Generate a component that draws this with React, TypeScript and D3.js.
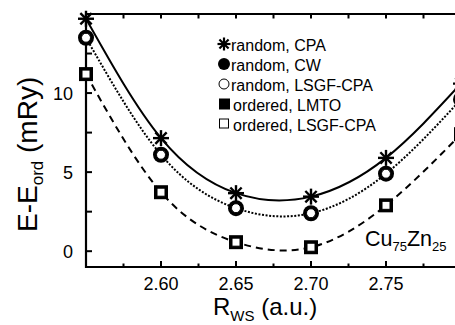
import React from "react";
import * as d3 from "d3";

const rws = [2.55, 2.6, 2.65, 2.7, 2.75, 2.8];
const randomCPA = [14.7, 7.15, 3.67, 3.45, 5.9, 10.6];
const randomCW = [13.5, 6.1, 2.72, 2.4, 4.9, 9.6];
const randomLSGF = [13.5, 6.1, 2.72, 2.4, 4.9, 9.6];
const orderedLMTO = [11.2, 3.73, 0.57, 0.25, 2.9, 7.4];
const orderedLSGF = [11.2, 3.73, 0.57, 0.25, 2.9, 7.4];

const xMajorTicks = [2.6, 2.65, 2.7, 2.75];
const xAllTicks = [2.575, 2.6, 2.625, 2.65, 2.675, 2.7, 2.725, 2.75, 2.775];
const yMajorTicks = [0, 5, 10];
const yAllTicks = [0, 2.5, 5, 7.5, 10, 12.5];
const legendLabels = [
  "random, CPA",
  "random, CW",
  "random, LSGF-CPA",
  "ordered, LMTO",
  "ordered, LSGF-CPA",
];

const W = 455;
const H = 325;
const left = 86;
const right = 461;
const top = 14;
const bottom = 267;
const FONT = "'Liberation Sans', Arial, Helvetica, sans-serif";

const x = d3.scaleLinear().domain([2.55, 2.8]).range([left, right]);
const y = d3.scaleLinear().domain([-1, 15]).range([bottom, top]);

function Asterisk({ cx, cy, r, sw }: { cx: number; cy: number; r: number; sw: number }) {
  const angles = [0, 45, 90, 135];
  return (
    <g>
      {angles.map((a) => {
        const rad = (a * Math.PI) / 180;
        const dx = Math.cos(rad) * r;
        const dy = Math.sin(rad) * r;
        return (
          <line key={a} x1={cx - dx} y1={cy - dy} x2={cx + dx} y2={cy + dy} stroke="#000" strokeWidth={sw} />
        );
      })}
    </g>
  );
}

export default function App() {
  const line = d3
    .line<number>()
    .x((_, i) => x(rws[i]))
    .y((d) => y(d))
    .curve(d3.curveNatural);

  return (
    <svg
      width={W}
      height={H}
      style={{ position: "absolute", left: 0, top: 0, background: "#fff" }}
      fontFamily={FONT}
    >
      <defs>
        <clipPath id="plot">
          <rect x={left} y={top} width={right - left} height={bottom - top} />
        </clipPath>
      </defs>
      <rect x={0} y={0} width={W} height={H} fill="#fff" />

      {/* curves */}
      <g clipPath="url(#plot)" fill="none" stroke="#000">
        <path d={line(randomCPA) || ""} strokeWidth={2} />
        <path d={line(randomLSGF) || ""} strokeWidth={2} strokeDasharray="2,1.6" />
        <path d={line(orderedLSGF) || ""} strokeWidth={2} strokeDasharray="7,5" />
      </g>

      {/* axes frame */}
      <g stroke="#000" strokeWidth={2.2} fill="none">
        <line x1={left} y1={top} x2={left} y2={bottom + 1} />
        <line x1={left - 1} y1={bottom} x2={right} y2={bottom} />
        <line x1={left - 1} y1={top} x2={right} y2={top} />
      </g>
      {/* ticks */}
      <g stroke="#000" strokeWidth={2}>
        {xAllTicks.map((t) => {
          const major = xMajorTicks.some((m) => Math.abs(m - t) < 1e-6);
          return (
            <g key={t}>
              <line x1={x(t)} x2={x(t)} y1={bottom} y2={bottom - (major ? 6 : 3.5)} />
              <line x1={x(t)} x2={x(t)} y1={top} y2={top + 4.5} />
            </g>
          );
        })}
        {yAllTicks.map((t) => (
          <line key={t} x1={left} x2={left + 6} y1={y(t)} y2={y(t)} />
        ))}
      </g>
      <g fontSize={18} fill="#000">
        {xMajorTicks.map((t) => (
          <text key={t} x={x(t)} y={290} textAnchor="middle">
            {t.toFixed(2)}
          </text>
        ))}
        {yMajorTicks.map((t) => (
          <text key={t} x={73} y={y(t) + 6.5} textAnchor="end">
            {t}
          </text>
        ))}
      </g>

      {/* axis labels */}
      <text x={213} y={315} fontSize={24} fill="#000">
        R<tspan fontSize={15} dy={6}>WS</tspan>
        <tspan dy={-6}> (a.u.)</tspan>
      </text>
      <text transform="translate(37,232) rotate(-90)" fontSize={28} fill="#000">
        E-E<tspan fontSize={17} dy={6}>ord</tspan>
        <tspan dy={-6}> (mRy)</tspan>
      </text>

      {/* alloy label */}
      <text x={365} y={246} fontSize={21.5} fill="#000">
        Cu<tspan fontSize={13} dy={5}>75</tspan>
        <tspan dy={-5}>Zn</tspan>
        <tspan fontSize={13} dy={5}>25</tspan>
      </text>

      {/* markers */}
      <g>
        {orderedLMTO.map((v, i) => (
          <rect key={"lm" + i} x={x(rws[i]) - 7} y={y(v) - 7} width={14} height={14} fill="#000" />
        ))}
        {orderedLSGF.map((v, i) => (
          <rect key={"ol" + i} x={x(rws[i]) - 4} y={y(v) - 4} width={8} height={8} fill="#fff" stroke="#000" strokeWidth={1} />
        ))}
        {randomCW.map((v, i) => (
          <circle key={"cw" + i} cx={x(rws[i])} cy={y(v)} r={8} fill="#000" />
        ))}
        {randomLSGF.map((v, i) => (
          <circle key={"rl" + i} cx={x(rws[i])} cy={y(v)} r={4.5} fill="#fff" stroke="#000" strokeWidth={1} />
        ))}
        {randomCPA.map((v, i) => (
          <Asterisk key={"cpa" + i} cx={x(rws[i])} cy={y(v)} r={8} sw={2.4} />
        ))}
      </g>

      {/* legend */}
      <g>
        <Asterisk cx={224} cy={44} r={6.5} sw={2.2} />
        <circle cx={224} cy={64} r={6} fill="#000" />
        <circle cx={224} cy={84} r={5} fill="#fff" stroke="#000" strokeWidth={1} />
        <rect x={219} y={98.5} width={11} height={11} fill="#000" />
        <rect x={219.5} y={119} width={9} height={9} fill="#fff" stroke="#000" strokeWidth={1} />
        {legendLabels.map((l, i) => (
          <text key={l} x={i < 3 ? 231 : 233} y={50.5 + i * 20} fontSize={16} fill="#000">
            {l}
          </text>
        ))}
      </g>
    </svg>
  );
}
